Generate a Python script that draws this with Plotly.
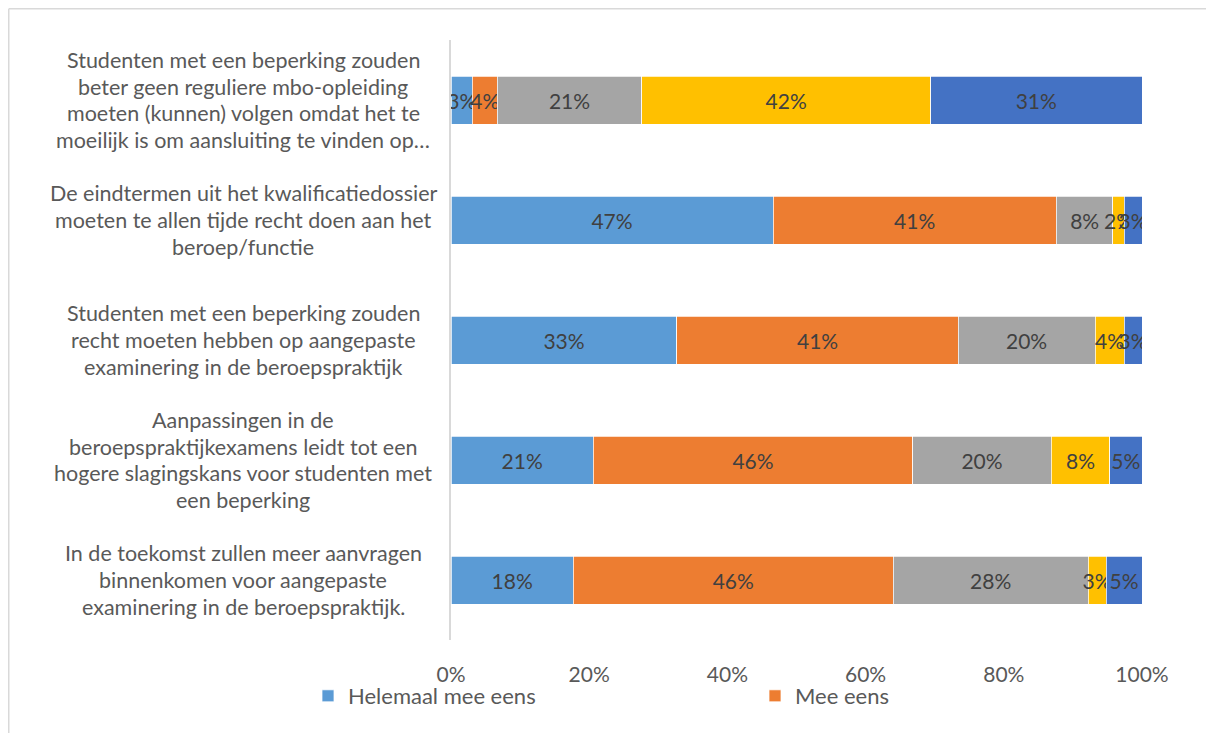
import plotly.graph_objects as go

categories = [
    "Studenten met een beperking zouden<br>beter geen reguliere mbo-opleiding<br>moeten (kunnen) volgen omdat het te<br>moeilijk is om aansluiting te vinden op…",
    "De eindtermen uit het kwalificatiedossier<br>moeten te allen tijde recht doen aan het<br>beroep/functie",
    "Studenten met een beperking zouden<br>recht moeten hebben op aangepaste<br>examinering in de beroepspraktijk",
    "Aanpassingen in de<br>beroepspraktijkexamens leidt tot een<br>hogere slagingskans voor studenten met<br>een beperking",
    "In de toekomst zullen meer aanvragen<br>binnenkomen voor aangepaste<br>examinering in de beroepspraktijk.",
]

series_names = ["Helemaal mee eens", "Mee eens", "Neutraal", "Oneens", "Helemaal oneens"]
helemaal_mee_eens = [3.1, 46.6, 32.7, 20.6, 17.7]
mee_eens = [3.6, 41.0, 40.7, 46.2, 46.3]
neutraal = [20.9, 8.2, 19.8, 20.1, 28.2]
oneens = [41.8, 1.6, 4.2, 8.4, 2.6]
helemaal_oneens = [30.6, 2.6, 2.6, 4.7, 5.2]
series_values = [helemaal_mee_eens, mee_eens, neutraal, oneens, helemaal_oneens]

x_ticks = [0, 20, 40, 60, 80, 100]
x_tick_labels = ["0%", "20%", "40%", "60%", "80%", "100%"]

colors = ["#5B9BD5", "#ED7D31", "#A5A5A5", "#FFC000", "#4472C4"]
FONT = "Lato"

# page has an 8px body margin; figure covers reference pixels (8..1214, 8..733)
OFF = 8
W, H = 1214 - OFF, 733 - OFF
L = 451 - OFF
R = W - (1142 - OFF)
T = 40 - OFF
B = H - (640 - OFF)
pw, ph = W - L - R, H - T - B


def px(x):  # reference pixel x -> paper
    return (x - OFF - L) / pw


def py(y):  # reference pixel y -> paper
    return (H - B - (y - OFF)) / ph


fig = go.Figure()
for i, (name, vals) in enumerate(zip(series_names, series_values)):
    fig.add_trace(go.Bar(
        y=categories, x=vals, name=name, orientation="h",
        marker=dict(color=colors[i], line=dict(color="white", width=0.75)),
        texttemplate="%{x:.0f}%", textposition="inside", insidetextanchor="middle",
        textangle=0,
        textfont=dict(family=FONT, size=21, color="#404040"),
        constraintext="none",
        showlegend=(i < 2),
        hoverinfo="x+name",
    ))

LINE_H = 26.8
for cat in categories:
    lines = cat.split("<br>")
    n = len(lines)
    for k, line in enumerate(lines):
        fig.add_annotation(
            x=px(243), xref="paper", y=cat, yref="y", text=line,
            showarrow=False, xanchor="center", yanchor="middle", align="center",
            yshift=-(k - (n - 1) / 2) * LINE_H,
            font=dict(family=FONT, size=21.5, color="#595959"),
        )

fig.add_shape(type="line", xref="paper", yref="paper",
              x0=px(8.75), x1=px(1300), y0=py(8.75), y1=py(8.75),
              line=dict(color="#D9D9D9", width=1.5))
fig.add_shape(type="line", xref="paper", yref="paper",
              x0=px(8.75), x1=px(8.75), y0=py(8.75), y1=py(800),
              line=dict(color="#D9D9D9", width=1.5))

fig.update_layout(
    barmode="stack", bargap=0.6,
    width=W, height=H,
    margin=dict(l=L, r=R, t=T, b=B, pad=0),
    plot_bgcolor="white", paper_bgcolor="white",
    uniformtext=dict(minsize=21, mode="show"),
    font=dict(family=FONT, color="#595959"),
    xaxis=dict(range=[0, 100], tickvals=x_ticks, ticktext=x_tick_labels,
               showgrid=False, zeroline=False, showline=False,
               ticklabelstandoff=20,
               tickfont=dict(family=FONT, size=21, color="#595959")),
    yaxis=dict(autorange="reversed", showticklabels=False, showgrid=False,
               zeroline=False, showline=True, linecolor="#D9D9D9", linewidth=1.5,
               ticks=""),
    legend=dict(orientation="h", x=px(308), xanchor="left", y=py(696), yanchor="middle",
                entrywidth=402, entrywidthmode="pixels", bgcolor="rgba(0,0,0,0)",
                font=dict(family=FONT, size=22, color="#595959"),
                itemclick=False, traceorder="normal"),
)

fig.write_html("out.html")
